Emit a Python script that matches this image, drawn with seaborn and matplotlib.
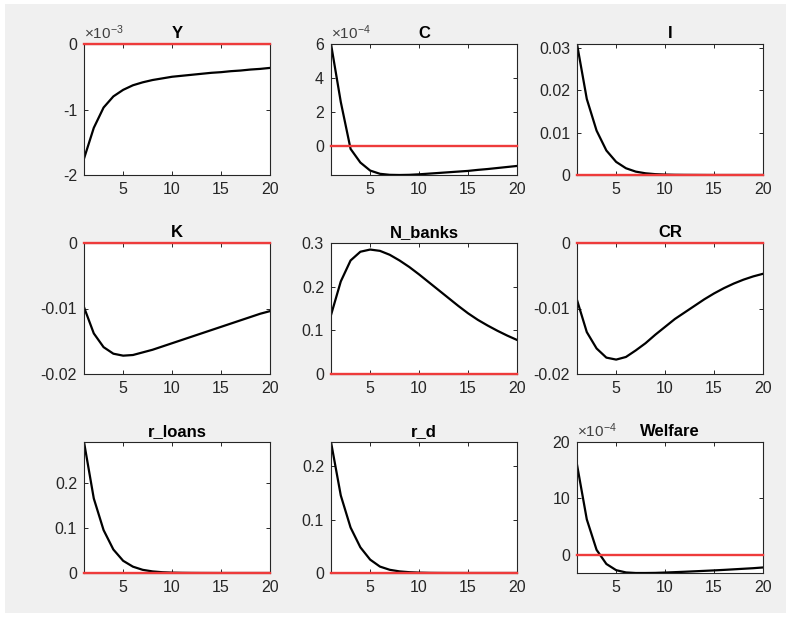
import numpy as np
import matplotlib
matplotlib.use("Agg")
import matplotlib.pyplot as plt
import seaborn as sns
from matplotlib.patches import Rectangle
from matplotlib.ticker import FixedLocator, FuncFormatter

# ---------------- data ----------------
horizon = list(range(1, 21))
zero_line = [0.0] * 20

titles = ["Y", "C", "I", "K", "N_banks", "CR", "r_loans", "r_d", "Welfare"]

Y_irf = np.array([-1.75, -1.28, -0.97, -0.80, -0.70, -0.63, -0.585, -0.55, -0.525, -0.50,
                  -0.485, -0.47, -0.455, -0.44, -0.43, -0.415, -0.405, -0.39, -0.38, -0.365]) * 1e-3
C_irf = np.array([6.0, 2.6, -0.15, -0.95, -1.42, -1.61, -1.67, -1.68, -1.67, -1.64,
                  -1.60, -1.56, -1.52, -1.48, -1.44, -1.38, -1.33, -1.27, -1.21, -1.15]) * 1e-4
I_irf = [0.031, 0.018, 0.0105, 0.0058, 0.0031, 0.0016, 0.0008, 0.0004, 0.0002, 0.0001,
         0.00005, 0.00003, 0.00002, 0.00001, 0.0, 0.0, 0.0, 0.0, 0.0, 0.0]
K_irf = [-0.0098, -0.0138, -0.0159, -0.0169, -0.0172, -0.0171, -0.0167, -0.0163, -0.0158, -0.0153,
         -0.0148, -0.0143, -0.0138, -0.0133, -0.0128, -0.0123, -0.0118, -0.0113, -0.0108, -0.0104]
N_banks_irf = [0.135, 0.212, 0.260, 0.280, 0.285, 0.282, 0.273, 0.260, 0.245, 0.228,
               0.210, 0.192, 0.174, 0.156, 0.139, 0.124, 0.111, 0.099, 0.088, 0.078]
CR_irf = [-0.0087, -0.0136, -0.0161, -0.0175, -0.0178, -0.0174, -0.0164, -0.0153, -0.0140, -0.0128,
          -0.0116, -0.0106, -0.0096, -0.0086, -0.0077, -0.0069, -0.0062, -0.0056, -0.0051, -0.0047]
r_loans_irf = [0.29, 0.165, 0.095, 0.052, 0.027, 0.014, 0.007, 0.0035, 0.0017, 0.0008,
               0.0004, 0.0002, 0.0001, 0.00005, 0.0, 0.0, 0.0, 0.0, 0.0, 0.0]
r_d_irf = [0.245, 0.145, 0.085, 0.048, 0.025, 0.012, 0.006, 0.003, 0.0015, 0.0007,
           0.0003, 0.00015, 0.00007, 0.00003, 0.0, 0.0, 0.0, 0.0, 0.0, 0.0]
Welfare_irf = np.array([16.0, 6.3, 0.9, -1.6, -2.7, -3.1, -3.2, -3.2, -3.18, -3.12,
                        -3.05, -2.98, -2.90, -2.82, -2.74, -2.65, -2.55, -2.45, -2.35, -2.22]) * 1e-4

series = [Y_irf, C_irf, I_irf, K_irf, N_banks_irf, CR_irf, r_loans_irf, r_d_irf, Welfare_irf]

ylims = [(-2e-3, 0), (-1.68e-4, 6e-4), (0, 0.031), (-0.02, 0), (0, 0.3),
         (-0.02, 0), (0, 0.29), (0, 0.245), (-3.2e-4, 20e-4)]
yticks = [[-2e-3, -1e-3, 0], [0, 2e-4, 4e-4, 6e-4], [0, 0.01, 0.02, 0.03],
          [-0.02, -0.01, 0], [0, 0.1, 0.2, 0.3], [-0.02, -0.01, 0],
          [0, 0.1, 0.2], [0, 0.1, 0.2], [0, 10e-4, 20e-4]]
exponents = [-3, -4, None, None, None, None, None, None, -4]
xticks = [5, 10, 15, 20]

# ---------------- style ----------------
plt.rcParams["font.family"] = ["Liberation Sans", "DejaVu Sans"]
plt.rcParams["mathtext.fontset"] = "custom"
plt.rcParams["mathtext.rm"] = "Liberation Sans"
plt.rcParams["mathtext.it"] = "Liberation Sans"

W, H = 789, 620
fig = plt.figure(figsize=(W / 100, H / 100), dpi=100, facecolor="white")
fig.patches.append(Rectangle((5 / W, (H - 613) / H), (786 - 5) / W, (613 - 4) / H,
                             transform=fig.transFigure, facecolor="#f0f0f0",
                             edgecolor="none", zorder=-10))

lefts = [84, 331, 577]
tops = [44, 243, 442]
aw, ah = 186, 131
tick_col = "#262626"

for k in range(9):
    r, c = divmod(k, 3)
    ax = fig.add_axes([lefts[c] / W, (H - tops[r] - ah) / H, aw / W, ah / H])
    ax.set_facecolor("white")
    sns.lineplot(x=horizon, y=series[k], ax=ax, color="black", lw=1.6)
    sns.lineplot(x=horizon, y=zero_line, ax=ax, color="#ee3b3b", lw=1.7)
    red = ax.lines[-1]
    red.set_clip_on(False)
    red.set_zorder(3)
    ax.set_xlim(1, 20)
    ax.set_ylim(*ylims[k])
    ax.xaxis.set_major_locator(FixedLocator(xticks))
    ax.yaxis.set_major_locator(FixedLocator(yticks[k]))
    e = exponents[k]
    if e is None:
        ax.yaxis.set_major_formatter(FuncFormatter(lambda v, p: "%g" % round(v, 6)))
    else:
        ax.yaxis.set_major_formatter(FuncFormatter(lambda v, p, e=e: "%g" % round(v / 10 ** e, 6)))
        ax.text(0.0, 1.015, r"$\times10^{%d}$" % e, transform=ax.transAxes,
                ha="left", va="bottom", fontsize=11, color="#404040")
    ax.tick_params(direction="in", length=3, width=0.7, top=True, right=True,
                   labelsize=11.5, colors=tick_col, pad=5)
    for sp in ax.spines.values():
        sp.set_color(tick_col)
        sp.set_linewidth(0.8)
    ax.set_title(titles[k], fontsize=12, fontweight="bold", color="black", pad=4)
    ax.set_xlabel("")
    ax.set_ylabel("")

fig.savefig("out.png", dpi=100, facecolor=fig.get_facecolor())
